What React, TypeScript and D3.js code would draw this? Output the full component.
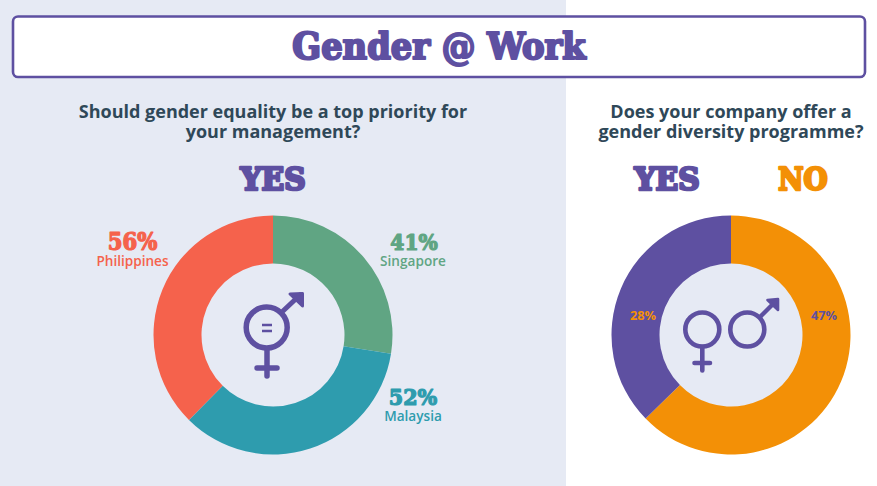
import React from "react";
import * as d3 from "d3";

const leftLabels = ["Singapore", "Malaysia", "Philippines"];
const leftValues = [41, 52, 56];
const leftColors = ["#60a583", "#2e9cae", "#f5624c"];
const rightLabels = ["NO", "YES"];
const rightValues = [47, 28];
const rightColors = ["#f39006", "#5e50a1"];

const PURPLE = "#5e50a1";
const SLATE = "#2f4858";
const BG = "#e6eaf4";
const SLAB = "'DejaVu Serif Condensed', 'DejaVu Serif', serif";
const SANS = "'Open Sans', sans-serif";

function Donut({ cx, values, colors, hole }: { cx: number; values: number[]; colors: string[]; hole: string }) {
  const pie = d3.pie<number>().sort(null)(values);
  const arc = d3.arc<d3.PieArcDatum<number>>().innerRadius(71.5).outerRadius(119.5);
  return (
    <g transform={`translate(${cx},335)`}>
      <circle r={72} fill={hole} />
      {pie.map((d, i) => (
        <path key={i} d={arc(d) as string} fill={colors[i]} />
      ))}
    </g>
  );
}

function Slab({ x, y, size, fill, children, sw = 1.4, sx = 1 }: any) {
  return (
    <text
      transform={`translate(${x},${y}) scale(${sx},1)`}
      textAnchor="middle"
      fontFamily={SLAB}
      fontWeight={700}
      fontSize={size}
      fill={fill}
      stroke={fill}
      strokeWidth={sw}
      strokeLinejoin="round"
    >
      {children}
    </text>
  );
}

function Caption({ x, y, fill, children }: any) {
  return (
    <text x={x} y={y} textAnchor="middle" fontFamily={SANS} fontWeight={600} fontSize={13.6} fill={fill}>
      {children}
    </text>
  );
}

function Question({ x, lines }: { x: number; lines: string[] }) {
  return (
    <g fontFamily={SANS} fontWeight={700} fontSize={18} fill={SLATE} textAnchor="middle">
      {lines.map((l, i) => (
        <text key={i} x={x} y={118 + i * 20}>
          {l}
        </text>
      ))}
    </g>
  );
}

export default function App() {
  return (
    <svg
      width={877}
      height={486}
      viewBox="0 0 877 486"
      style={{ position: "absolute", left: 0, top: 0, display: "block" }}
    >
      <rect width={877} height={486} fill="#ffffff" />
      <rect width={566} height={486} fill={BG} />

      <rect x={13} y={16.5} width={852} height={60.5} rx={5} fill="#ffffff" stroke={PURPLE} strokeWidth={2.6} />
      <Slab x={439} y={59} size={37.5} fill={PURPLE} sw={2.2}>
        Gender @ Work
      </Slab>

      <Question x={273} lines={["Should gender equality be a top priority for", "your management?"]} />
      <Question x={731} lines={["Does your company offer a", "gender diversity programme?"]} />

      <Slab x={273} y={190} size={32} fill={PURPLE} sw={2.6} sx={1.03}>YES</Slab>
      <Slab x={667} y={190} size={32} fill={PURPLE} sw={2.6} sx={1.03}>YES</Slab>
      <Slab x={803} y={190} size={32} fill={rightColors[0]} sw={2.6} sx={0.96}>NO</Slab>

      <Donut cx={273} values={leftValues} colors={leftColors} hole={BG} />
      <Donut cx={731} values={rightValues} colors={rightColors} hole={BG} />

      <Slab x={132.5} y={250} size={23.5} fill={leftColors[2]} sw={1.2}>{leftValues[2]}%</Slab>
      <Caption x={132.5} y={266} fill={leftColors[2]}>{leftLabels[2]}</Caption>
      <Slab x={414} y={250} size={22.5} fill={leftColors[0]} sw={1.2}>{leftValues[0]}%</Slab>
      <Caption x={413} y={266} fill={leftColors[0]}>{leftLabels[0]}</Caption>
      <Slab x={413} y={405} size={23} fill={leftColors[1]} sw={1.2}>{leftValues[1]}%</Slab>
      <Caption x={413} y={421} fill={leftColors[1]}>{leftLabels[1]}</Caption>

      <text x={643} y={320} textAnchor="middle" fontFamily={SANS} fontWeight={700} fontSize={12.8} fill={rightColors[0]}>
        {rightValues[1]}%
      </text>
      <text x={824} y={320} textAnchor="middle" fontFamily={SANS} fontWeight={700} fontSize={12.8} fill={rightColors[1]}>
        {rightValues[0]}%
      </text>

      {/* combined symbol */}
      <g fill="none" stroke={PURPLE} strokeLinecap="round" strokeLinejoin="round">
        <circle cx={266.7} cy={327.5} r={20.5} strokeWidth={5.5} />
        <path d="M267 349V376M257 368H277" strokeWidth={5.5} />
        <path d="M283 311L300 295" strokeWidth={5} />
        <path d="M290 294L302.5 293.5L302.5 306Z" fill={PURPLE} strokeWidth={3} />
        <path d="M262 325H272M262 331H272" strokeWidth={2.4} strokeLinecap="butt" />
      </g>

      {/* separate symbols */}
      <g fill="none" stroke={PURPLE} strokeLinecap="round" strokeLinejoin="round">
        <circle cx={702.3} cy={329.5} r={17} strokeWidth={4.6} />
        <path d="M702.3 347V370.5M694.5 363H710" strokeWidth={4.6} />
        <circle cx={747.3} cy={329.5} r={17} strokeWidth={4.6} />
        <path d="M760 317L776 301" strokeWidth={4.4} />
        <path d="M767.5 300L778 299L778 310Z" fill={PURPLE} strokeWidth={2.6} />
      </g>
    </svg>
  );
}
